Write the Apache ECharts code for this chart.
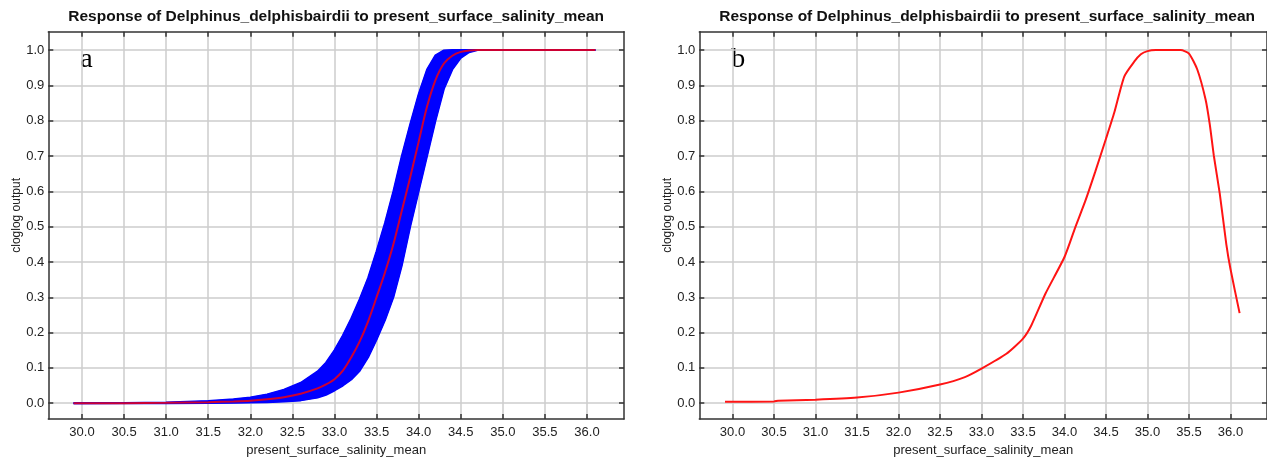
<!DOCTYPE html>
<html><head><meta charset="utf-8">
<script src="https://cdn.jsdelivr.net/npm/echarts@6/dist/echarts.min.js"></script>
<style>html,body{margin:0;padding:0;background:#fff;}#c{width:1267px;height:462px;}</style>
</head><body><div id="c"></div>
<script>
// ---- text ----
const titleText = 'Response of Delphinus_delphisbairdii to present_surface_salinity_mean';
const xName = 'present_surface_salinity_mean';
const yName = 'cloglog output';
const panelLetters = ['a', 'b'];

// ---- ticks ----
const xTicks = [30.0, 30.5, 31.0, 31.5, 32.0, 32.5, 33.0, 33.5, 34.0, 34.5, 35.0, 35.5, 36.0];
const yTicks = [0.0, 0.1, 0.2, 0.3, 0.4, 0.5, 0.6, 0.7, 0.8, 0.9, 1.0];

// ---- panel a: mean response with +/- band ----
const salA   = [29.9, 30.5, 31.0, 31.5, 31.8, 32.0, 32.2, 32.4, 32.6, 32.8, 32.9, 33.0, 33.1, 33.2, 33.3, 33.4, 33.5, 33.6, 33.7, 33.8, 33.9, 34.0, 34.1, 34.2, 34.3, 34.4, 34.5, 34.6, 34.7, 35.0, 35.5, 36.1];
const meanA  = [0.0, 0.0, 0.001, 0.003, 0.005, 0.007, 0.011, 0.017, 0.027, 0.042, 0.053, 0.068, 0.092, 0.13, 0.175, 0.232, 0.30, 0.37, 0.45, 0.545, 0.64, 0.74, 0.84, 0.915, 0.962, 0.984, 0.995, 0.999, 1.0, 1.0, 1.0, 1.0];
const upperA = [0.0, 0.0005, 0.002, 0.006, 0.011, 0.016, 0.025, 0.038, 0.058, 0.09, 0.115, 0.15, 0.192, 0.24, 0.295, 0.355, 0.43, 0.51, 0.60, 0.70, 0.79, 0.875, 0.945, 0.985, 0.999, 1.0, 1.0, 1.0, 1.0, 1.0, 1.0, 1.0];
const lowerA = [0.0, 0.0, 0.0, 0.0005, 0.0012, 0.002, 0.003, 0.005, 0.008, 0.016, 0.024, 0.036, 0.05, 0.067, 0.092, 0.13, 0.18, 0.235, 0.30, 0.39, 0.50, 0.60, 0.70, 0.80, 0.89, 0.945, 0.978, 0.994, 1.0, 1.0, 1.0, 1.0];

// ---- panel b: response ----
const salB  = [29.91, 30.5, 30.55, 31.0, 31.5, 32.0, 32.5, 32.8, 33.0, 33.3, 33.5, 33.6, 33.77, 34.0, 34.13, 34.25, 34.37, 34.5, 34.6, 34.72, 34.84, 34.92, 35.0, 35.1, 35.4, 35.5, 35.6, 35.7, 35.75, 35.8, 35.87, 35.95, 36.0, 36.11];
const respB = [0.004, 0.005, 0.007, 0.010, 0.016, 0.030, 0.053, 0.074, 0.098, 0.14, 0.183, 0.22, 0.31, 0.414, 0.498, 0.572, 0.655, 0.749, 0.823, 0.925, 0.967, 0.988, 0.997, 1.0, 1.0, 0.99, 0.945, 0.86, 0.79, 0.70, 0.595, 0.45, 0.38, 0.255];

const FONT = '"Liberation Sans", Arial, Helvetica, sans-serif';
const SERIF = '"Liberation Serif", "Times New Roman", serif';
const X_MIN = 29.6, X_MAX = 36.44, Y_MIN = -0.045, Y_MAX = 1.052;
const FRAME = {color: '#333', width: 1.5};
const GRIDLINE = {color: '#cccccc', width: 1.5};
const LABEL = {fontFamily: FONT, fontSize: 13, color: '#222'};

const grids = [
  {left: 48.3, top: 31.7, width: 575.7, height: 392.6},
  {left: 699.3, top: 31.7, width: 575.7, height: 392.6}
];

const xAxis = [], yAxis = [];
grids.forEach((g, gi) => {
  xAxis.push({
    type: 'value', gridIndex: gi, position: 'bottom', min: X_MIN, max: X_MAX,
    name: xName, nameLocation: 'middle', nameGap: 22, nameTextStyle: LABEL,
    axisLine: {show: true, onZero: false, lineStyle: FRAME},
    axisTick: {show: true, inside: true, length: 5, customValues: xTicks, lineStyle: FRAME},
    axisLabel: {show: true, margin: 7, customValues: xTicks, formatter: v => Number(v).toFixed(1), ...LABEL},
    splitLine: {show: true, lineStyle: GRIDLINE}
  });
  xAxis.push({
    type: 'value', gridIndex: gi, position: 'top', min: X_MIN, max: X_MAX,
    axisLine: {show: true, onZero: false, lineStyle: FRAME},
    axisTick: {show: true, inside: true, length: 5, customValues: xTicks, lineStyle: FRAME},
    axisLabel: {show: false}, splitLine: {show: false}
  });
  yAxis.push({
    type: 'value', gridIndex: gi, position: 'left', min: Y_MIN, max: Y_MAX,
    name: yName, nameLocation: 'middle', nameGap: 26, nameRotate: 90,
    nameTextStyle: {fontFamily: FONT, fontSize: 12, color: '#222', padding: [0, 0, 0, 20]},
    axisLine: {show: true, onZero: false, lineStyle: FRAME},
    axisTick: {show: true, inside: true, length: 5, customValues: yTicks, lineStyle: FRAME},
    axisLabel: {show: true, margin: 4, customValues: yTicks, formatter: v => Number(v).toFixed(1), ...LABEL},
    splitLine: {show: true, lineStyle: GRIDLINE}
  });
  yAxis.push({
    type: 'value', gridIndex: gi, position: 'right', min: Y_MIN, max: Y_MAX,
    axisLine: {show: true, onZero: false, lineStyle: FRAME},
    axisTick: {show: true, inside: true, length: 5, customValues: yTicks, lineStyle: FRAME},
    axisLabel: {show: false}, splitLine: {show: false}
  });
});

const pairs = (xs, ys) => xs.map((x, i) => [x, ys[i]]);
const bandData = salA.map((x, i) => [x, upperA[i], lowerA[i]]);

function renderBand(params, api) {
  if (params.dataIndex !== 0) return null;
  const pts = [];
  for (let i = 0; i < bandData.length; i++) pts.push(api.coord([bandData[i][0], bandData[i][1]]));
  for (let i = bandData.length - 1; i >= 0; i--) pts.push(api.coord([bandData[i][0], bandData[i][2]]));
  return {type: 'polygon', shape: {points: pts}, style: {fill: '#0000ff', stroke: '#0000ff', lineWidth: 1}};
}

const series = [
  {type: 'custom', xAxisIndex: 0, yAxisIndex: 0, data: bandData, renderItem: renderBand,
   encode: {x: 0, y: [1, 2]}, silent: true, z: 2},
  {type: 'line', xAxisIndex: 0, yAxisIndex: 0, data: pairs(salA, upperA),
   symbol: 'none', lineStyle: {color: '#0000ff', width: 2}, silent: true, z: 3},
  {type: 'line', xAxisIndex: 0, yAxisIndex: 0, data: pairs(salA, lowerA),
   symbol: 'none', lineStyle: {color: '#0000ff', width: 2}, silent: true, z: 3},
  {type: 'line', xAxisIndex: 0, yAxisIndex: 0, data: pairs(salA, meanA), smooth: 0.3,
   symbol: 'none', lineStyle: {color: 'rgba(255,0,0,0.8)', width: 2}, silent: true, z: 4},
  {type: 'line', xAxisIndex: 2, yAxisIndex: 2, data: pairs(salB, respB), smooth: 0.2,
   symbol: 'none', lineStyle: {color: '#ff1414', width: 2}, silent: true, z: 4}
];

const graphic = [];
grids.forEach((g, gi) => {
  graphic.push({type: 'text', x: g.left + g.width / 2, y: 9,
    style: {text: titleText, textAlign: 'center', textVerticalAlign: 'top',
      font: 'bold 15.5px ' + FONT, fill: '#111'}});
  graphic.push({type: 'text', x: g.left + 32, y: 46,
    style: {text: panelLetters[gi], textAlign: 'left', textVerticalAlign: 'top',
      font: '28px ' + SERIF, fill: '#000'}});
});

const chart = echarts.init(document.getElementById('c'), null, {renderer: 'canvas'});
chart.setOption({
  animation: false,
  backgroundColor: '#fff',
  grid: grids,
  xAxis, yAxis, series, graphic
});
</script>
</body></html>
